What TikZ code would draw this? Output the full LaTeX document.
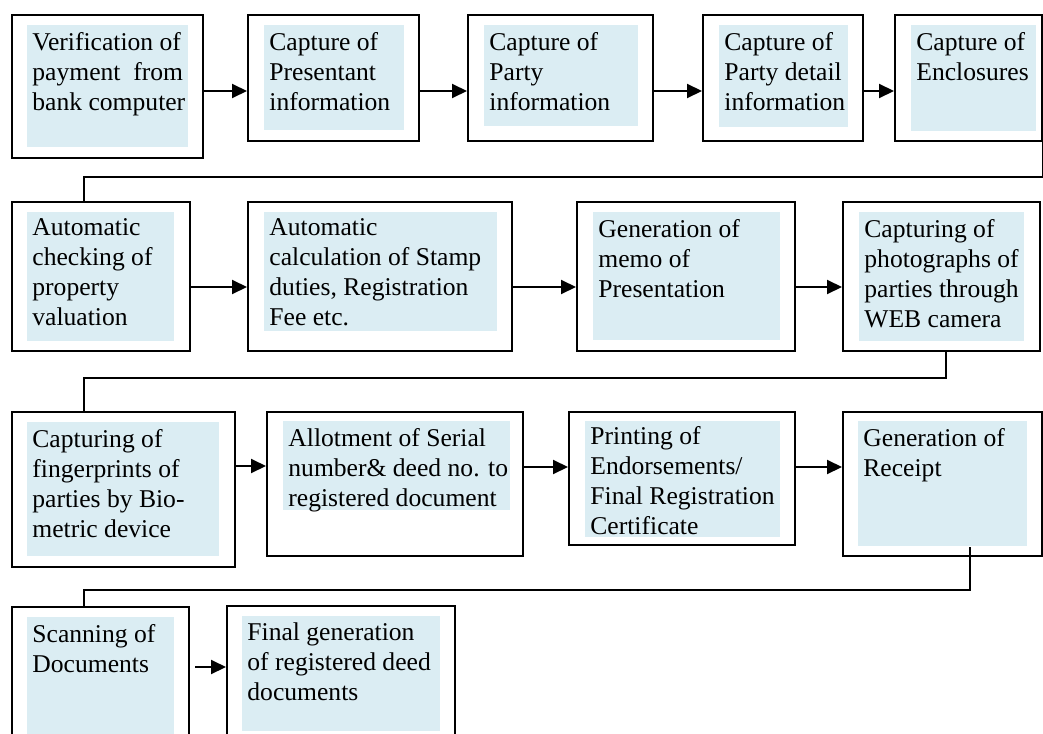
\documentclass[tikz,border=0pt]{standalone}
\usepackage{fontspec}
\setmainfont{Liberation Serif}
\usetikzlibrary{arrows.meta}
\usetikzlibrary{fit}
\tikzset{>={Triangle[length=7.5pt,width=7pt]}}
\definecolor{paleblue}{RGB}{219,237,243}

\begin{document}
\begin{tikzpicture}[x=0.5pt,y=-0.5pt,
    stage/.style={draw, line width=1pt, inner sep=0pt},
    words/.style={anchor=north west, align=left, inner xsep=2.5pt, inner ysep=3.3pt, font=\fontsize{12.8}{15}\selectfont},
    link/.style={line width=1pt}]
\useasboundingbox (0,0) rectangle (1043,733);
\clip (0,0) rectangle (1043,733);
    %shaded panels
    \fill[paleblue] (27,25) rectangle (188,147);
    \fill[paleblue] (264,25) rectangle (404,130);
    \fill[paleblue] (484,25) rectangle (638,126);
    \fill[paleblue] (719,25) rectangle (848,127);
    \fill[paleblue] (911,25) rectangle (1036,131);
    \fill[paleblue] (27,212) rectangle (174,341);
    \fill[paleblue] (264,212) rectangle (497,331);
    \fill[paleblue] (593,212) rectangle (780,340);
    \fill[paleblue] (859,212) rectangle (1024,341);
    \fill[paleblue] (27,422) rectangle (219,556);
    \fill[paleblue] (283,421) rectangle (510,510);
    \fill[paleblue] (585,421) rectangle (780,537);
    \fill[paleblue] (858,421) rectangle (1027,546);
    \fill[paleblue] (27,617) rectangle (174,745);
    \fill[paleblue] (242,616) rectangle (440,731);
    %boxes
    \node[stage, fit={(12,15) (203,158)}] (s1) {};
    \node[stage, fit={(248,15) (419,141)}] (s2) {};
    \node[stage, fit={(468,15) (653,141)}] (s3) {};
    \node[stage, fit={(703,15) (863,141)}] (s4) {};
    \node[stage, fit={(895,15) (1042,141)}] (s5) {};
    \node[stage, fit={(12,202) (190,351)}] (s6) {};
    \node[stage, fit={(248,202) (512,351)}] (s7) {};
    \node[stage, fit={(577,202) (795,351)}] (s8) {};
    \node[stage, fit={(843,202) (1040,351)}] (s9) {};
    \node[stage, fit={(12,412) (235,567)}] (s10) {};
    \node[stage, fit={(267,412) (523,556)}] (s11) {};
    \node[stage, fit={(569,412) (795,545)}] (s12) {};
    \node[stage, fit={(843,412) (1042,556)}] (s13) {};
    \node[stage, fit={(12,607) (189,760)}] (s14) {};
    \node[stage, fit={(227,606) (455,760)}] (s15) {};
    %texts
    \node[words] (t1) at (27,25) {Verification of\\payment\hspace{6.4pt}from\\bank computer};
    \node[words] (t2) at (264,25) {Capture of\\Presentant\\information};
    \node[words] (t3) at (484,25) {Capture of\\Party\\information};
    \node[words] (t4) at (719,25) {Capture of\\Party detail\\information};
    \node[words] (t5) at (911,25) {Capture of\\Enclosures};
    \node[words] (t6) at (27,212) {Automatic\\checking of\\property\\valuation};
    \node[words] (t7) at (264,212) {Automatic\\calculation of Stamp\\duties, Registration\\Fee etc.};
    \node[words] (t8) at (593,212) {Generation of\\memo of\\Presentation};
    \node[words] (t9) at (859,212) {Capturing of\\photographs of\\parties through\\WEB camera};
    \node[words] (t10) at (27,422) {Capturing of\\fingerprints of\\parties by Bio-\\metric device};
    \node[words] (t11) at (283,421) {Allotment of Serial\\number\& deed no. to\\registered document};
    \node[words] (t12) at (585,419) {Printing of\\Endorsements/\\Final Registration\\Certificate};
    \node[words] (t13) at (858,421) {Generation of\\Receipt};
    \node[words] (t14) at (27,617) {Scanning of\\Documents};
    \node[words] (t15) at (242,616) {Final generation\\of registered deed\\documents};
    %arrows
    \draw[link,->] (s1.east |- 0,91) -- (s2.west |- 0,91);
    \draw[link,->] (s2.east |- 0,91) -- (s3.west |- 0,91);
    \draw[link,->] (s3.east |- 0,91) -- (s4.west |- 0,91);
    \draw[link,->] (s4.east |- 0,91) -- (s5.west |- 0,91);
    \draw[link,->] (s6.east |- 0,287) -- (s7.west |- 0,287);
    \draw[link,->] (s7.east |- 0,287) -- (s8.west |- 0,287);
    \draw[link,->] (s8.east |- 0,287) -- (s9.west |- 0,287);
    \draw[link,->] (s10.east |- 0,466) -- (s11.west |- 0,466);
    \draw[link,->] (s11.east |- 0,467) -- (s12.west |- 0,467);
    \draw[link,->] (s12.east |- 0,467) -- (s13.west |- 0,467);
    \draw[link,->,shorten <=2.5pt] (s14.east |- 0,667) -- (s15.west |- 0,667);
    %row links
    \draw[link] (s5.south east) -- ++(0,35) -| ([xshift=36.5pt]s6.north west);
    \draw[link] ([xshift=52pt]s9.south west) -- ++(0,26) -| ([xshift=36.5pt]s10.north west);
    \draw[link] ([shift={(64pt,5pt)}]s13.south west) -- ++(0,43) -| ([xshift=36.5pt]s14.north west);
\end{tikzpicture}
\end{document}
